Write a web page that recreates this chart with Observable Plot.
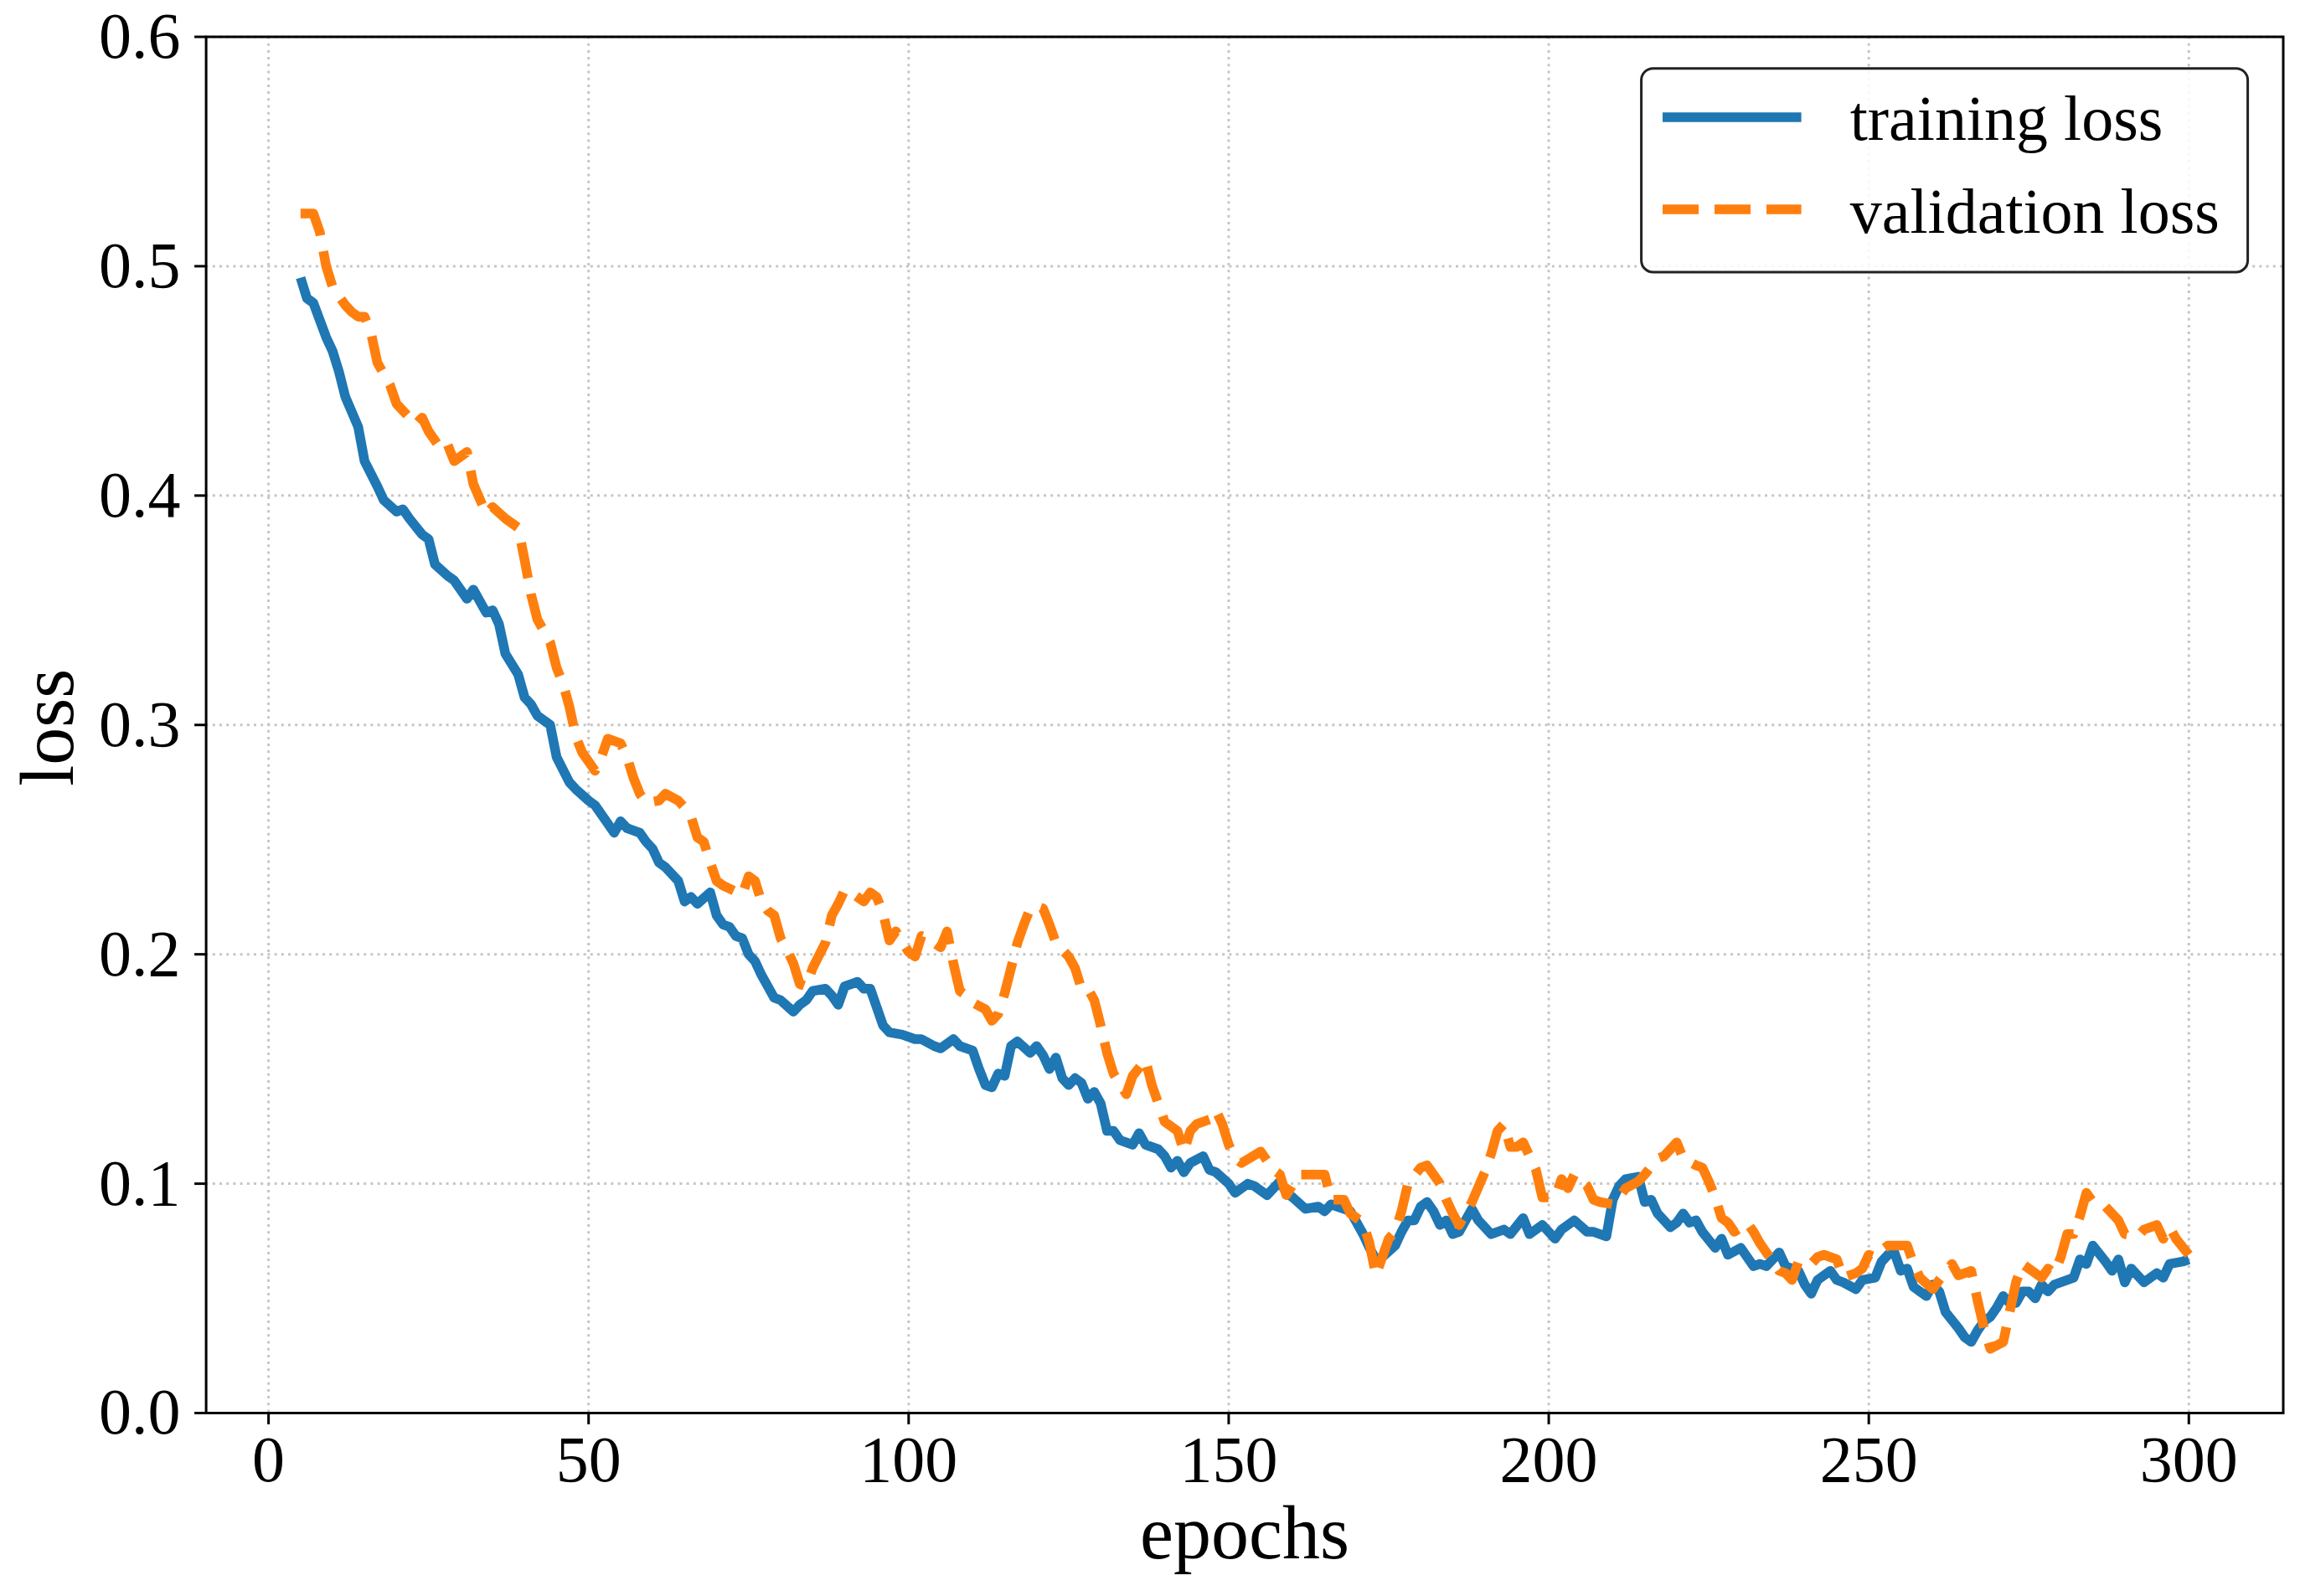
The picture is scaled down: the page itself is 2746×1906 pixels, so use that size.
<!DOCTYPE html>
<html><head><meta charset="utf-8">
<script src="https://cdn.jsdelivr.net/npm/d3@7"></script>
<script src="https://cdn.jsdelivr.net/npm/@observablehq/plot@0.6"></script>
<style>
html,body{margin:0;padding:0;background:#fff;}
#chart{position:relative;width:2746px;height:1906px;}
#legend{position:absolute;left:1958px;top:80px;}
</style></head><body>
<div id="chart"></div>
<script>
const trainEpochs = [5,6,7,9,10,11,12,14,15,17,18,20,21,22,24,25,26,28,29,31,32,34,35,36,37,39,40,41,42,44,45,47,48,50,51,53,54,55,56,58,59,60,61,62,64,65,66,67,69,70,71,72,73,74,75,76,77,78,79,80,82,83,84,85,87,88,89,90,92,93,94,95,96,97,99,101,102,104,105,107,108,110,111,112,113,114,115,116,117,119,120,121,122,123,124,125,126,127,128,129,130,131,132,133,135,136,137,139,140,141,142,143,144,146,147,148,150,151,153,154,156,158,159,160,162,164,165,166,167,169,170,171,172,173,174,176,177,178,179,180,181,182,183,184,185,186,188,189,191,193,194,196,197,199,201,202,204,206,207,209,210,211,212,214,215,216,217,219,220,221,222,223,224,226,227,228,230,232,233,234,236,237,239,240,241,242,243,244,245,246,248,249,251,252,253,254,255,256,257,259,260,261,262,264,265,266,267,268,269,270,271,272,273,274,275,276,277,278,279,281,282,283,284,285,287,288,289,290,291,293,295,296,297,299,300];
const trainLoss = [0.495,0.486,0.484,0.469,0.463,0.454,0.443,0.430,0.415,0.404,0.398,0.393,0.394,0.390,0.383,0.381,0.370,0.365,0.363,0.355,0.359,0.349,0.350,0.344,0.331,0.322,0.312,0.309,0.304,0.300,0.286,0.275,0.272,0.267,0.265,0.257,0.253,0.258,0.255,0.253,0.249,0.246,0.240,0.238,0.232,0.223,0.225,0.222,0.227,0.217,0.213,0.212,0.208,0.207,0.200,0.197,0.191,0.186,0.181,0.180,0.175,0.178,0.180,0.184,0.185,0.182,0.178,0.186,0.188,0.185,0.185,0.177,0.169,0.166,0.165,0.163,0.163,0.160,0.159,0.163,0.160,0.158,0.150,0.143,0.142,0.148,0.147,0.160,0.162,0.157,0.160,0.156,0.150,0.155,0.146,0.143,0.146,0.144,0.137,0.140,0.135,0.123,0.123,0.119,0.117,0.122,0.117,0.115,0.112,0.107,0.110,0.105,0.109,0.112,0.106,0.105,0.100,0.096,0.100,0.099,0.095,0.101,0.096,0.094,0.089,0.090,0.088,0.091,0.090,0.088,0.083,0.078,0.072,0.067,0.068,0.073,0.079,0.084,0.084,0.090,0.092,0.088,0.082,0.084,0.078,0.079,0.089,0.084,0.078,0.080,0.078,0.085,0.078,0.082,0.076,0.080,0.084,0.079,0.079,0.077,0.093,0.099,0.102,0.103,0.092,0.093,0.087,0.081,0.083,0.087,0.083,0.084,0.079,0.072,0.076,0.069,0.072,0.064,0.065,0.064,0.070,0.064,0.062,0.056,0.052,0.058,0.060,0.062,0.058,0.057,0.054,0.058,0.059,0.066,0.069,0.070,0.062,0.063,0.055,0.051,0.056,0.053,0.044,0.037,0.033,0.031,0.036,0.040,0.042,0.046,0.051,0.048,0.048,0.053,0.053,0.050,0.056,0.053,0.056,0.058,0.059,0.067,0.065,0.073,0.066,0.062,0.067,0.057,0.063,0.057,0.061,0.059,0.065,0.066,0.067];
const valEpochs = [5,7,8,9,10,12,13,14,15,16,17,19,20,21,23,24,25,27,28,29,31,32,34,35,37,39,40,41,42,44,45,46,47,48,49,50,51,52,53,55,56,57,58,59,61,62,64,65,66,67,68,69,70,71,74,75,76,77,78,79,80,81,82,83,84,85,87,88,89,90,91,93,94,95,96,97,98,100,101,102,103,105,106,107,108,109,110,112,113,114,115,116,117,118,119,120,121,122,123,124,125,126,127,128,129,130,131,132,134,135,137,138,139,140,142,143,144,145,147,148,149,150,151,152,155,156,157,158,159,161,165,166,168,169,171,172,173,174,175,176,177,178,180,181,183,184,185,186,188,190,191,192,193,194,195,196,197,198,199,200,201,202,203,204,206,207,208,210,211,212,214,215,217,218,220,221,223,224,225,226,227,228,229,231,232,233,235,236,237,238,239,241,242,243,245,246,248,249,250,251,252,253,255,256,257,258,260,261,263,264,266,267,268,269,271,272,273,274,276,277,278,279,280,281,282,283,284,285,287,289,290,292,293,295,296,297,298,300];
const valLoss = [0.523,0.523,0.515,0.500,0.491,0.483,0.480,0.478,0.478,0.471,0.458,0.448,0.440,0.437,0.431,0.434,0.428,0.420,0.422,0.415,0.419,0.405,0.392,0.395,0.390,0.386,0.372,0.357,0.346,0.336,0.325,0.318,0.308,0.295,0.288,0.284,0.280,0.286,0.294,0.292,0.286,0.277,0.270,0.266,0.267,0.270,0.267,0.264,0.260,0.251,0.249,0.240,0.232,0.230,0.226,0.234,0.232,0.223,0.219,0.217,0.207,0.202,0.196,0.187,0.186,0.194,0.205,0.217,0.222,0.228,0.227,0.223,0.227,0.225,0.218,0.206,0.210,0.201,0.199,0.208,0.207,0.203,0.210,0.196,0.184,0.182,0.179,0.176,0.171,0.174,0.183,0.194,0.205,0.213,0.220,0.221,0.220,0.213,0.205,0.202,0.199,0.194,0.185,0.185,0.180,0.169,0.157,0.148,0.139,0.147,0.154,0.143,0.135,0.127,0.123,0.114,0.123,0.126,0.128,0.132,0.126,0.117,0.111,0.109,0.114,0.110,0.106,0.104,0.095,0.104,0.104,0.093,0.093,0.087,0.083,0.074,0.060,0.068,0.076,0.079,0.088,0.100,0.107,0.108,0.100,0.093,0.087,0.082,0.092,0.105,0.113,0.123,0.126,0.116,0.116,0.118,0.112,0.106,0.094,0.094,0.094,0.102,0.098,0.104,0.099,0.093,0.092,0.091,0.094,0.098,0.101,0.104,0.111,0.112,0.118,0.111,0.108,0.107,0.101,0.094,0.085,0.083,0.079,0.083,0.079,0.074,0.066,0.062,0.061,0.058,0.066,0.065,0.068,0.069,0.067,0.059,0.061,0.063,0.069,0.068,0.071,0.073,0.073,0.073,0.065,0.059,0.054,0.058,0.065,0.060,0.062,0.049,0.037,0.028,0.031,0.044,0.057,0.065,0.061,0.059,0.063,0.061,0.068,0.078,0.078,0.086,0.096,0.092,0.090,0.084,0.078,0.077,0.080,0.082,0.076,0.081,0.076,0.069];
const xTicks = [0, 50, 100, 150, 200, 250, 300];
const yTicks = [0.0, 0.1, 0.2, 0.3, 0.4, 0.5, 0.6];
const seriesNames = ["training loss", "validation loss"];
const seriesColors = ["#1f77b4", "#ff7f0e"];
const xLabel = "epochs";
const yLabel = "loss";

const train = trainEpochs.map((e, i) => ({epoch: e, loss: trainLoss[i]}));
const val = valEpochs.map((e, i) => ({epoch: e, loss: valLoss[i]}));

const font = "'Liberation Serif', 'Times New Roman', Times, serif";
const dash = "43,19";
const lw = 11.5;
const gridStyle = {stroke: "#c6c6c6", strokeOpacity: 1, strokeWidth: 3, strokeDasharray: "3,5.2"};

const chart = Plot.plot({
  width: 2746,
  height: 1906,
  marginLeft: 245.6,
  marginRight: 20.5,
  marginTop: 43.5,
  marginBottom: 219,
  style: {fontFamily: font, background: "white", color: "black"},
  x: {domain: [-9.75, 314.75]},
  y: {domain: [0, 0.6]},
  marks: [
    Plot.gridX(xTicks, gridStyle),
    Plot.gridY(yTicks.slice(1), gridStyle),
    Plot.line(train, {x: "epoch", y: "loss", stroke: seriesColors[0], strokeWidth: lw, strokeLinejoin: "round", strokeLinecap: "butt"}),
    Plot.line(val, {x: "epoch", y: "loss", stroke: seriesColors[1], strokeWidth: lw, strokeLinejoin: "round", strokeLinecap: "butt", strokeDasharray: dash}),
    Plot.frame({stroke: "black", strokeWidth: 3}),
    Plot.axisX(xTicks, {tickSize: 14, tickPadding: 12, fontSize: 78, strokeWidth: 3, label: null}),
    Plot.axisY(yTicks, {tickSize: 13.5, tickPadding: 17, fontSize: 78, strokeWidth: 3, tickFormat: d => d.toFixed(1), label: null}),
    Plot.text([xLabel], {frameAnchor: "bottom", dy: 173, fontSize: 90, lineAnchor: "bottom", textAnchor: "middle"}),
    Plot.text([yLabel], {frameAnchor: "left", dx: -159.6, dy: 3, rotate: -90, fontSize: 90, lineAnchor: "bottom", textAnchor: "middle"})
  ]
});
const container = document.getElementById("chart");
container.appendChild(chart);

// Legend
const lg = d3.create("svg")
  .attr("id", "legend")
  .attr("width", 728)
  .attr("height", 248)
  .style("font-family", font);
lg.append("rect")
  .attr("x", 1.6).attr("y", 1.7)
  .attr("width", 724).attr("height", 243.3)
  .attr("rx", 14).attr("ry", 14)
  .attr("fill", "white").attr("fill-opacity", 0.85)
  .attr("stroke", "#222").attr("stroke-width", 3);
const rows = [60, 170];
const baselines = [86.7, 198];
seriesNames.forEach((name, i) => {
  lg.append("line")
    .attr("x1", 27).attr("x2", 192.6)
    .attr("y1", rows[i]).attr("y2", rows[i])
    .attr("stroke", seriesColors[i])
    .attr("stroke-width", lw)
    .attr("stroke-dasharray", i === 1 ? dash : null);
  lg.append("text")
    .attr("x", 250.7).attr("y", baselines[i])
    .attr("font-size", 76)
    .attr("fill", "black")
    .text(name);
});
container.appendChild(lg.node());
</script>
</body></html>
